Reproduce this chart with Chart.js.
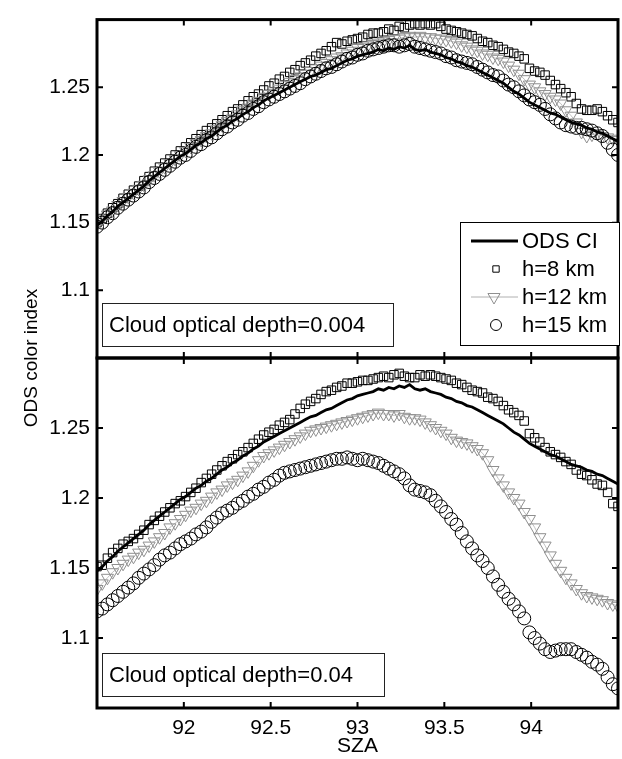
<!DOCTYPE html>
<html>
<head>
<meta charset="utf-8">
<script src="https://cdn.jsdelivr.net/npm/chart.js@4.4.1/dist/chart.umd.min.js"></script>
<style>
  html, body { margin: 0; padding: 0; background: #fff; }
  #wrap { position: relative; width: 622px; height: 759px; overflow: hidden; background: #fff; }
  #wrap canvas { position: absolute; left: 0; top: 0; }
</style>
</head>
<body>
<div id="wrap">
  <canvas id="topPanel" width="626" height="759"></canvas>
  <canvas id="botPanel" width="626" height="759"></canvas>
</div>
<script>
'use strict';

const sza = [
  91.50, 91.53, 91.56, 91.59, 91.62, 91.65, 91.68, 91.71, 91.74, 91.77,
  91.80, 91.83, 91.86, 91.89, 91.92, 91.95, 91.98, 92.01, 92.04, 92.07,
  92.10, 92.13, 92.16, 92.19, 92.22, 92.25, 92.28, 92.31, 92.34, 92.37,
  92.40, 92.43, 92.46, 92.49, 92.52, 92.55, 92.58, 92.61, 92.64, 92.67,
  92.70, 92.73, 92.76, 92.79, 92.82, 92.85, 92.88, 92.91, 92.94, 92.97,
  93.00, 93.03, 93.06, 93.09, 93.12, 93.15, 93.18, 93.21, 93.24, 93.27,
  93.30, 93.33, 93.36, 93.39, 93.42, 93.45, 93.48, 93.51, 93.54, 93.57,
  93.60, 93.63, 93.66, 93.69, 93.72, 93.75, 93.78, 93.81, 93.84, 93.87,
  93.90, 93.93, 93.96, 93.99, 94.02, 94.05, 94.08, 94.11, 94.14, 94.17,
  94.20, 94.23, 94.26, 94.29, 94.32, 94.35, 94.38, 94.41, 94.44, 94.47,
  94.50
];

// ODS colour index (solid line, same in both panels)
const odsCI = [
  1.148, 1.151, 1.155, 1.158, 1.162, 1.165, 1.168, 1.171, 1.174, 1.177,
  1.181, 1.184, 1.187, 1.190, 1.193, 1.196, 1.199, 1.201, 1.204, 1.207,
  1.209, 1.212, 1.214, 1.217, 1.220, 1.222, 1.225, 1.227, 1.230, 1.232,
  1.235, 1.237, 1.240, 1.242, 1.244, 1.246, 1.248, 1.250, 1.252, 1.254,
  1.256, 1.258, 1.259, 1.261, 1.263, 1.264, 1.266, 1.268, 1.270, 1.271,
  1.273, 1.274, 1.275, 1.276, 1.278, 1.277, 1.279, 1.278, 1.280, 1.279,
  1.281, 1.278, 1.277, 1.278, 1.276, 1.275, 1.274, 1.272, 1.271, 1.269,
  1.268, 1.266, 1.265, 1.263, 1.261, 1.259, 1.257, 1.255, 1.253, 1.250,
  1.247, 1.245, 1.242, 1.239, 1.237, 1.235, 1.233, 1.231, 1.230, 1.228,
  1.226, 1.224, 1.223, 1.222, 1.220, 1.219, 1.217, 1.216, 1.214, 1.212,
  1.210
];

// cloud optical depth 0.004
const thin8 = [
  1.150, 1.153, 1.157, 1.161, 1.164, 1.168, 1.171, 1.174, 1.177, 1.181,
  1.184, 1.188, 1.191, 1.194, 1.197, 1.200, 1.203, 1.206, 1.209, 1.212,
  1.215, 1.218, 1.220, 1.223, 1.226, 1.229, 1.232, 1.234, 1.237, 1.240,
  1.243, 1.245, 1.248, 1.251, 1.253, 1.256, 1.258, 1.261, 1.263, 1.266,
  1.268, 1.270, 1.273, 1.275, 1.277, 1.280, 1.283, 1.282, 1.284, 1.285,
  1.286, 1.287, 1.289, 1.290, 1.290, 1.291, 1.293, 1.292, 1.295, 1.294,
  1.296, 1.297, 1.296, 1.297, 1.296, 1.297, 1.295, 1.293, 1.292, 1.291,
  1.290, 1.289, 1.288, 1.286, 1.284, 1.283, 1.281, 1.280, 1.278, 1.276,
  1.275, 1.273, 1.271, 1.264, 1.262, 1.261, 1.259, 1.255, 1.252, 1.249,
  1.246, 1.243, 1.238, 1.234, 1.233, 1.233, 1.234, 1.232, 1.229, 1.226,
  1.224
];
const thin12 = [
  1.149, 1.153, 1.156, 1.159, 1.163, 1.166, 1.169, 1.172, 1.175, 1.178,
  1.182, 1.185, 1.188, 1.191, 1.194, 1.197, 1.200, 1.203, 1.206, 1.209,
  1.211, 1.214, 1.216, 1.219, 1.222, 1.225, 1.227, 1.230, 1.233, 1.235,
  1.238, 1.240, 1.243, 1.245, 1.247, 1.249, 1.252, 1.254, 1.256, 1.258,
  1.260, 1.262, 1.264, 1.266, 1.268, 1.270, 1.272, 1.273, 1.275, 1.277,
  1.279, 1.280, 1.281, 1.282, 1.283, 1.284, 1.285, 1.286, 1.286, 1.287,
  1.288, 1.287, 1.288, 1.287, 1.287, 1.286, 1.286, 1.285, 1.284, 1.283,
  1.281, 1.280, 1.278, 1.277, 1.275, 1.274, 1.272, 1.271, 1.269, 1.266,
  1.263, 1.260, 1.256, 1.252, 1.250, 1.247, 1.245, 1.243, 1.241, 1.238,
  1.233, 1.229, 1.224, 1.217, 1.214, 1.215, 1.216, 1.214, 1.213, 1.212,
  1.211
];
const thin15 = [
  1.147, 1.150, 1.154, 1.157, 1.161, 1.164, 1.167, 1.170, 1.173, 1.176,
  1.180, 1.183, 1.186, 1.189, 1.192, 1.195, 1.198, 1.200, 1.203, 1.206,
  1.208, 1.211, 1.213, 1.216, 1.219, 1.221, 1.224, 1.226, 1.229, 1.231,
  1.234, 1.236, 1.239, 1.241, 1.243, 1.245, 1.247, 1.249, 1.251, 1.253,
  1.256, 1.258, 1.260, 1.262, 1.264, 1.265, 1.267, 1.269, 1.271, 1.272,
  1.274, 1.275, 1.277, 1.278, 1.279, 1.280, 1.281, 1.281, 1.280, 1.281,
  1.282, 1.280, 1.279, 1.278, 1.277, 1.276, 1.275, 1.273, 1.272, 1.270,
  1.269, 1.268, 1.267, 1.265, 1.263, 1.261, 1.259, 1.258, 1.255, 1.252,
  1.250, 1.247, 1.244, 1.241, 1.239, 1.237, 1.234, 1.230, 1.227, 1.224,
  1.222, 1.221, 1.220, 1.220, 1.219, 1.218, 1.216, 1.214, 1.209, 1.204,
  1.200
];

// cloud optical depth 0.04
const thick8 = [
  1.151, 1.152, 1.157, 1.161, 1.164, 1.167, 1.169, 1.171, 1.174, 1.177,
  1.181, 1.184, 1.187, 1.190, 1.193, 1.196, 1.198, 1.201, 1.204, 1.207,
  1.211, 1.214, 1.217, 1.220, 1.223, 1.226, 1.228, 1.231, 1.233, 1.236,
  1.239, 1.242, 1.245, 1.247, 1.249, 1.252, 1.254, 1.256, 1.260, 1.264,
  1.267, 1.269, 1.271, 1.274, 1.276, 1.277, 1.279, 1.280, 1.282, 1.282,
  1.283, 1.284, 1.284, 1.285, 1.286, 1.287, 1.286, 1.288, 1.289, 1.287,
  1.286, 1.286, 1.288, 1.287, 1.288, 1.287, 1.286, 1.285, 1.284, 1.282,
  1.281, 1.279, 1.277, 1.276, 1.275, 1.272, 1.271, 1.269, 1.266, 1.263,
  1.261, 1.259, 1.255, 1.246, 1.243, 1.240, 1.236, 1.233, 1.231, 1.229,
  1.226, 1.224, 1.220, 1.217, 1.216, 1.213, 1.210, 1.209, 1.204, 1.196,
  1.194
];
const thick12 = [
  1.135, 1.139, 1.143, 1.147, 1.150, 1.153, 1.156, 1.158, 1.161, 1.163,
  1.166, 1.169, 1.172, 1.175, 1.179, 1.182, 1.185, 1.188, 1.191, 1.193,
  1.196, 1.198, 1.201, 1.204, 1.206, 1.209, 1.211, 1.213, 1.216, 1.219,
  1.223, 1.227, 1.230, 1.232, 1.234, 1.236, 1.238, 1.240, 1.242, 1.244,
  1.246, 1.248, 1.249, 1.250, 1.251, 1.252, 1.253, 1.254, 1.255, 1.256,
  1.257, 1.258, 1.259, 1.260, 1.261, 1.260, 1.260, 1.259, 1.260, 1.258,
  1.257, 1.257, 1.256, 1.254, 1.252, 1.250, 1.248, 1.246, 1.243, 1.241,
  1.240, 1.239, 1.237, 1.235, 1.232, 1.227, 1.220, 1.214, 1.209, 1.204,
  1.200, 1.196, 1.190, 1.185, 1.179, 1.172, 1.166, 1.159, 1.153, 1.148,
  1.143, 1.139, 1.135, 1.132, 1.130, 1.129, 1.128, 1.127, 1.125, 1.124,
  1.123
];
const thick15 = [
  1.119, 1.121, 1.124, 1.127, 1.130, 1.133, 1.136, 1.139, 1.143, 1.146,
  1.149, 1.152, 1.156, 1.159, 1.161, 1.164, 1.167, 1.169, 1.171, 1.174,
  1.176, 1.179, 1.183, 1.186, 1.189, 1.191, 1.193, 1.196, 1.198, 1.201,
  1.203, 1.206, 1.208, 1.211, 1.213, 1.216, 1.218, 1.219, 1.220, 1.221,
  1.222, 1.223, 1.224, 1.225, 1.226, 1.227, 1.228, 1.228, 1.229, 1.228,
  1.227, 1.228, 1.227, 1.226, 1.225, 1.223, 1.221, 1.219, 1.217, 1.214,
  1.209, 1.206, 1.205, 1.204, 1.202, 1.198, 1.194, 1.190, 1.185, 1.181,
  1.175, 1.169, 1.164, 1.159, 1.155, 1.150, 1.144, 1.138, 1.133, 1.128,
  1.124, 1.119, 1.114, 1.104, 1.100, 1.096, 1.092, 1.090, 1.091, 1.092,
  1.092, 1.092, 1.090, 1.088, 1.086, 1.083, 1.081, 1.078, 1.072, 1.067,
  1.064
];

const xTicks = [92, 92.5, 93, 93.5, 94];
const yTicks = [1.1, 1.15, 1.2, 1.25];
const seriesNames = ['ODS CI', 'h=8 km', 'h=12 km', 'h=15 km'];

const FONT = "'Liberation Sans', Arial, Helvetica, sans-serif";
const GREY = '#8f8f8f';

const pts = (ys) => sza.map((x, i) => ({ x: x, y: ys[i] }));

function makeDatasets(s8, s12, s15) {
  return [
    {
      label: seriesNames[0], data: pts(odsCI), showLine: true,
      borderColor: '#000', borderWidth: 2.8, pointRadius: 0, order: 0,
    },
    {
      label: seriesNames[1], data: pts(s8), showLine: false,
      pointStyle: 'rect', pointRadius: 6, pointBorderWidth: 1,
      pointBorderColor: '#000', pointBackgroundColor: 'rgba(0,0,0,0)', order: 3,
    },
    {
      label: seriesNames[2], data: pts(s12), showLine: true,
      borderColor: '#b0b0b0', borderWidth: 0.8,
      pointStyle: 'triangle', pointRotation: 180, pointRadius: 7, pointBorderWidth: 1,
      pointBorderColor: GREY, pointBackgroundColor: 'rgba(0,0,0,0)', order: 2,
    },
    {
      label: seriesNames[3], data: pts(s15), showLine: false,
      pointStyle: 'circle', pointRadius: 6.5, pointBorderWidth: 1,
      pointBorderColor: '#000', pointBackgroundColor: 'rgba(0,0,0,0)', order: 1,
    },
  ];
}

// box round the plot with inward tick marks on all sides, plus notes
const framePlugin = {
  id: 'frame',
  afterDraw(chart, args, opts) {
    const { ctx, chartArea: a, scales } = chart;
    ctx.save();
    ctx.strokeStyle = '#000';
    ctx.lineWidth = 2;
    ctx.beginPath();
    xTicks.forEach((v) => {
      const px = scales.x.getPixelForValue(v);
      ctx.moveTo(px, a.top); ctx.lineTo(px, a.top + 6);
      ctx.moveTo(px, a.bottom); ctx.lineTo(px, a.bottom - 6);
    });
    yTicks.forEach((v) => {
      const py = scales.y.getPixelForValue(v);
      ctx.moveTo(a.left, py); ctx.lineTo(a.left + 6, py);
      ctx.moveTo(a.right, py); ctx.lineTo(a.right - 6, py);
    });
    ctx.stroke();
    ctx.lineWidth = 3;
    ctx.strokeRect(a.left, a.top, a.right - a.left, a.bottom - a.top);

    // note box
    const n = opts.note;
    ctx.fillStyle = '#fff';
    ctx.fillRect(n.x, n.y, n.w, n.h);
    ctx.lineWidth = 1;
    ctx.strokeStyle = '#222';
    ctx.strokeRect(n.x + 0.5, n.y + 0.5, n.w, n.h);
    ctx.fillStyle = '#000';
    ctx.font = '22px ' + FONT;
    ctx.textBaseline = 'middle';
    ctx.textAlign = 'left';
    ctx.fillText(n.text, n.x + 7, n.y + n.h / 2 + 1);

    if (opts.legend) drawLegend(ctx);
    if (opts.yTitle) {
      ctx.save();
      ctx.translate(32, 358);
      ctx.rotate(-Math.PI / 2);
      ctx.textAlign = 'center';
      ctx.font = '19px ' + FONT;
      ctx.fillText('ODS color index', 0, 0);
      ctx.restore();
    }
    ctx.restore();
  },
};

function drawLegend(ctx) {
  const bx = 460, by = 222, bw = 159, bh = 123;
  ctx.fillStyle = '#fff';
  ctx.fillRect(bx, by, bw, bh);
  ctx.strokeStyle = '#000';
  ctx.lineWidth = 1;
  ctx.strokeRect(bx + 0.5, by + 0.5, bw, bh);
  const rows = [241, 269, 297, 325];
  const draw = Chart.helpers.drawPoint;
  // ODS CI line
  ctx.lineWidth = 2.8;
  ctx.beginPath(); ctx.moveTo(471, rows[0]); ctx.lineTo(518, rows[0]); ctx.stroke();
  ctx.fillStyle = 'rgba(0,0,0,0)';
  ctx.lineWidth = 1;
  ctx.strokeStyle = '#000';
  draw(ctx, { pointStyle: 'rect', radius: 4.5, borderWidth: 1 }, 496, rows[1]);
  ctx.strokeStyle = '#b0b0b0';
  ctx.beginPath(); ctx.moveTo(471, rows[2]); ctx.lineTo(518, rows[2]); ctx.stroke();
  ctx.strokeStyle = GREY;
  draw(ctx, { pointStyle: 'triangle', rotation: 180, radius: 7, borderWidth: 1 }, 494, rows[2]);
  ctx.strokeStyle = '#000';
  draw(ctx, { pointStyle: 'circle', radius: 5.5, borderWidth: 1 }, 496, rows[3]);
  ctx.fillStyle = '#000';
  ctx.font = '22px ' + FONT;
  ctx.textBaseline = 'middle';
  ctx.textAlign = 'left';
  seriesNames.forEach((t, i) => ctx.fillText(t, 522, rows[i] + 1));
}

function yScale() {
  return {
    type: 'linear', min: 1.05, max: 1.30,
    afterBuildTicks: (s) => { s.ticks = yTicks.map((v) => ({ value: v })); },
    afterFit: (s) => { s.width = 97; },
    grid: { display: false, drawTicks: false },
    border: { display: false },
    ticks: {
      color: '#000', padding: 7, font: { family: FONT, size: 21 },
      callback: (v) => String(Math.round(v * 100) / 100),
    },
  };
}

function xScale(show) {
  return {
    type: 'linear', min: 91.5, max: 94.5, display: show,
    afterBuildTicks: (s) => { s.ticks = xTicks.map((v) => ({ value: v })); },
    afterFit: (s) => { if (show) s.height = 51; },
    grid: { display: false, drawTicks: false },
    border: { display: false },
    ticks: {
      color: '#000', padding: 8, maxRotation: 0, font: { family: FONT, size: 21 },
      callback: (v) => String(v),
    },
    title: {
      display: show, text: 'SZA', color: '#000', padding: { top: 0, bottom: 0 },
      font: { family: FONT, size: 21 },
    },
  };
}

function baseOptions(show, padding, frameOpts) {
  return {
    responsive: false,
    animation: false,
    devicePixelRatio: 1,
    layout: { padding: padding },
    scales: { x: xScale(show), y: yScale() },
    plugins: { legend: { display: false }, tooltip: { enabled: false }, frame: frameOpts },
  };
}

new Chart(document.getElementById('topPanel').getContext('2d'), {
  type: 'scatter',
  data: { datasets: makeDatasets(thin8, thin12, thin15) },
  options: baseOptions(false, { top: 10, bottom: 401, left: 0, right: 1 }, {
    note: { x: 102, y: 303, w: 291, h: 43, text: 'Cloud optical depth=0.004' },
    legend: true, yTitle: true,
  }),
  plugins: [framePlugin],
});

new Chart(document.getElementById('botPanel').getContext('2d'), {
  type: 'scatter',
  data: { datasets: makeDatasets(thick8, thick12, thick15) },
  options: baseOptions(true, { top: 358, bottom: 0, left: 0, right: 1 }, {
    note: { x: 102, y: 653, w: 282, h: 43, text: 'Cloud optical depth=0.04' },
    legend: false, yTitle: false,
  }),
  plugins: [framePlugin],
});
</script>
</body>
</html>
